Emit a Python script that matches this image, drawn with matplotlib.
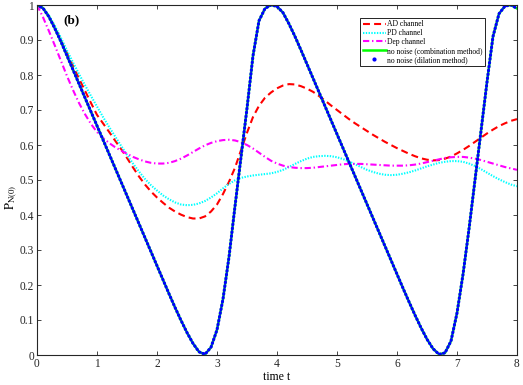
import numpy as np
import matplotlib
matplotlib.use("Agg")
import matplotlib.pyplot as plt
from matplotlib.lines import Line2D

plt.rcParams['font.family'] = ['Liberation Serif', 'DejaVu Serif']
plt.rcParams['mathtext.fontset'] = 'stix'
plt.rcParams['lines.scale_dashes'] = False

t = np.round(np.arange(0, 8.0001, 0.1), 2)

no_noise_comb = [1.000, 0.991, 0.966, 0.932, 0.895, 0.855, 0.815, 0.775, 0.735, 0.695,
                 0.655, 0.615, 0.575, 0.535, 0.495, 0.455, 0.415, 0.375, 0.335, 0.295,
                 0.255, 0.215, 0.175, 0.136, 0.099, 0.064, 0.033, 0.009, 0.002, 0.022,
                 0.072, 0.160, 0.280, 0.425, 0.565, 0.705, 0.855, 0.955, 0.990, 1.000,
                 0.996, 0.978, 0.946, 0.910, 0.871, 0.831, 0.791, 0.751, 0.711, 0.671,
                 0.631, 0.591, 0.551, 0.511, 0.471, 0.431, 0.391, 0.351, 0.311, 0.271,
                 0.231, 0.191, 0.152, 0.114, 0.078, 0.045, 0.018, 0.002, 0.006, 0.040,
                 0.120, 0.230, 0.360, 0.500, 0.640, 0.780, 0.910, 0.975, 0.997, 1.000,
                 0.990]
no_noise_dil = list(no_noise_comb)

ad = [1.000, 0.991, 0.967, 0.935, 0.899, 0.862, 0.826, 0.790, 0.755, 0.720,
      0.686, 0.662, 0.638, 0.613, 0.589, 0.563, 0.536, 0.510, 0.487, 0.467,
      0.450, 0.435, 0.421, 0.410, 0.401, 0.394, 0.390, 0.390, 0.396, 0.410,
      0.430, 0.460, 0.495, 0.535, 0.585, 0.635, 0.680, 0.712, 0.735, 0.750,
      0.762, 0.770, 0.774, 0.773, 0.768, 0.761, 0.752, 0.740, 0.727, 0.713,
      0.700, 0.687, 0.674, 0.662, 0.651, 0.640, 0.629, 0.619, 0.609, 0.600,
      0.591, 0.583, 0.575, 0.568, 0.562, 0.558, 0.556, 0.557, 0.561, 0.567,
      0.576, 0.586, 0.597, 0.609, 0.621, 0.633, 0.644, 0.654, 0.662, 0.669,
      0.674]

pd_ch = [1.000, 0.992, 0.970, 0.940, 0.906, 0.870, 0.836, 0.803, 0.771, 0.740,
         0.710, 0.680, 0.652, 0.625, 0.598, 0.572, 0.547, 0.524, 0.503, 0.485,
         0.470, 0.456, 0.445, 0.436, 0.430, 0.428, 0.429, 0.433, 0.440, 0.450,
         0.462, 0.476, 0.489, 0.499, 0.506, 0.510, 0.513, 0.515, 0.517, 0.519,
         0.523, 0.529, 0.537, 0.546, 0.554, 0.561, 0.566, 0.568, 0.569, 0.568,
         0.565, 0.560, 0.553, 0.545, 0.537, 0.529, 0.523, 0.518, 0.515, 0.514,
         0.515, 0.518, 0.522, 0.527, 0.533, 0.539, 0.544, 0.549, 0.552, 0.554,
         0.554, 0.552, 0.547, 0.540, 0.531, 0.521, 0.511, 0.502, 0.494, 0.487,
         0.482]

dep = [1.000, 0.965, 0.925, 0.883, 0.840, 0.797, 0.757, 0.720, 0.688, 0.660,
       0.637, 0.620, 0.606, 0.594, 0.584, 0.575, 0.566, 0.559, 0.553, 0.549,
       0.547, 0.547, 0.549, 0.554, 0.561, 0.570, 0.580, 0.590, 0.599, 0.606,
       0.611, 0.614, 0.615, 0.613, 0.608, 0.600, 0.590, 0.578, 0.566, 0.555,
       0.547, 0.541, 0.537, 0.535, 0.534, 0.534, 0.535, 0.537, 0.539, 0.541,
       0.543, 0.545, 0.546, 0.546, 0.546, 0.545, 0.544, 0.543, 0.542, 0.541,
       0.541, 0.541, 0.542, 0.544, 0.547, 0.551, 0.555, 0.559, 0.563, 0.565,
       0.566, 0.566, 0.564, 0.561, 0.557, 0.552, 0.547, 0.542, 0.537, 0.533,
       0.529]

xticks = [0, 1, 2, 3, 4, 5, 6, 7, 8]
yticks = [0, 0.1, 0.2, 0.3, 0.4, 0.5, 0.6, 0.7, 0.8, 0.9, 1]
yticklabels = ['0', '0.1', '0.2', '0.3', '0.4', '0.5', '0.6', '0.7', '0.8', '0.9', '1']

fig = plt.figure(figsize=(5.23, 3.85), dpi=100)
ax = fig.add_axes([37/523, 1-355/385, 480/523, 350/385])

ax.plot(t, ad, color=(1, 0, 0), lw=1.5, dashes=(5.0, 3.0), label='AD channel')
ax.plot(t, pd_ch, color=(0, 1, 1), lw=1.5, dashes=(1.0, 1.0), label='PD channel')
ax.plot(t, dep, color=(1, 0, 1), lw=1.5, dashes=(4.5, 2.0, 1.0, 2.0), label='Dep channel')
ax.plot(t, no_noise_comb, color=(0, 1, 0), lw=1.8, label='no noise (combination method)')
ax.plot(t, no_noise_dil, color=(0, 0, 1), lw=2.2, dashes=(0.6, 2.2),
        solid_capstyle='round', dash_capstyle='round')

handles, labels = ax.get_legend_handles_labels()
handles.append(Line2D([], [], color=(0, 0, 1), marker='.', markersize=4, linestyle='none'))
labels.append('no noise (dilation method)')
leg = ax.legend(handles, labels, loc='upper right', bbox_to_anchor=(485/523, 1-18/385),
                bbox_transform=fig.transFigure, fontsize=5.5, frameon=True, fancybox=False,
                edgecolor='black', framealpha=1, borderaxespad=0, handlelength=3.0,
                handletextpad=0.2, labelspacing=0.12, borderpad=0.3)
leg.get_frame().set_linewidth(0.6)

ax.set_xlim(0, 8)
ax.set_ylim(0, 1)
ax.set_xticks(xticks)
ax.set_xticklabels([str(v) for v in xticks])
ax.set_yticks(yticks)
ax.set_yticklabels(yticklabels)
ax.tick_params(direction='in', length=3, width=0.6, top=True, right=True,
               labelsize=8.3, colors='#262626', labelcolor='#262626', pad=2)
for s in ax.spines.values():
    s.set_linewidth(0.8)
    s.set_color('#262626')

ax.set_xlabel('time t', fontsize=8.5, labelpad=1)
ax.set_ylabel(r'$\mathrm{P}_{\mathrm{N(0)}}$', fontsize=9)
ax.yaxis.set_label_coords(-0.038, 0.45)
ax.text(0.575, 0.957, '(b)', fontsize=9.5, fontweight='bold', ha='center', va='center')

fig.savefig('out.png', dpi=100)
